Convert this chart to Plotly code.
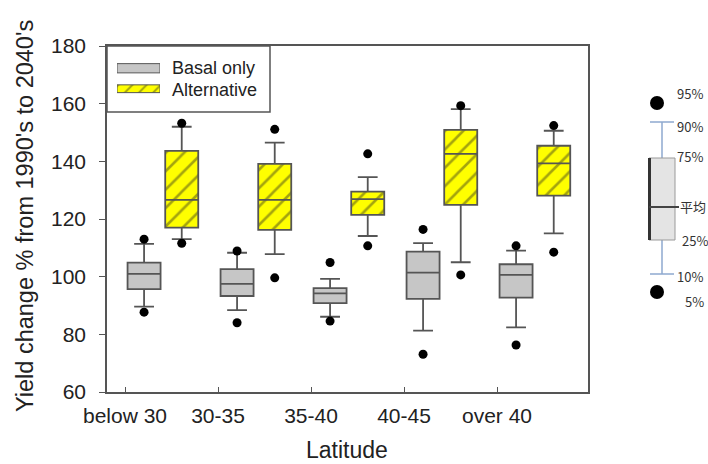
import plotly.graph_objects as go

# Latitude bands
categories = ["below 30", "30-35", "35-40", "40-45", "over 40"]

# Yield change (%) percentiles per latitude band: 5, 10, 25, 50, 75, 90, 95
basal_p5 = [87.7, 84.0, 84.6, 73.1, 76.3]
basal_p10 = [89.6, 88.4, 86.1, 81.3, 82.4]
basal_q1 = [95.7, 93.3, 90.8, 92.3, 92.7]
basal_med = [101.0, 97.5, 94.2, 101.4, 100.6]
basal_q3 = [104.9, 102.6, 96.0, 108.7, 104.3]
basal_p90 = [111.4, 108.3, 99.2, 111.6, 109.0]
basal_p95 = [113.0, 108.9, 104.9, 116.4, 110.7]

alt_p5 = [111.6, 99.6, 110.7, 100.6, 108.5]
alt_p10 = [113.0, 107.8, 114.1, 105.0, 115.0]
alt_q1 = [117.0, 116.2, 121.4, 124.9, 128.1]
alt_med = [126.6, 126.6, 126.9, 142.6, 139.3]
alt_q3 = [143.6, 139.1, 129.5, 150.9, 145.4]
alt_p90 = [152.0, 146.5, 134.5, 158.1, 150.6]
alt_p95 = [153.2, 151.1, 142.6, 159.3, 152.4]

series_names = ["Basal only", "Alternative"]
key_labels = ["95%", "90%", "75%", "平均", "25%", "10%", "5%"]

FONT = "Liberation Sans, Arial, sans-serif"
BOX_W = 0.355
LINE = "#555555"
GRAY = "#c6c6c6"
YELLOW = "#ffff00"
HATCH = "#4a4a1c"

pos = list(range(len(categories)))
x_basal = [p + 0.205 for p in pos]
x_alt = [p + 0.61 for p in pos]

fig = go.Figure()

# box bodies (filled), drawn in the bar layer beneath the box outlines
fig.add_trace(go.Bar(
    x=x_basal, base=basal_q1, y=[b - a for a, b in zip(basal_q1, basal_q3)],
    width=BOX_W, marker=dict(color=GRAY, line=dict(width=0)),
    showlegend=False, hoverinfo="skip"))
fig.add_trace(go.Bar(
    x=x_alt, base=alt_q1, y=[b - a for a, b in zip(alt_q1, alt_q3)],
    width=BOX_W,
    marker=dict(color=YELLOW, line=dict(width=0),
                pattern=dict(shape="/", fgcolor=HATCH, bgcolor=YELLOW,
                             size=13, solidity=0.2)),
    showlegend=False, hoverinfo="skip"))

# outlines, medians and 10/90 whiskers
for xs, q1, med, q3, lo, hi, name in [
    (x_basal, basal_q1, basal_med, basal_q3, basal_p10, basal_p90, series_names[0]),
    (x_alt, alt_q1, alt_med, alt_q3, alt_p10, alt_p90, series_names[1]),
]:
    fig.add_trace(go.Box(
        x=xs, q1=q1, median=med, q3=q3, lowerfence=lo, upperfence=hi,
        width=BOX_W, whiskerwidth=0.6, boxpoints=False,
        fillcolor="rgba(0,0,0,0)", line=dict(color=LINE, width=1.8),
        name=name, showlegend=False))

# 5th / 95th percentile points
for xs, p5, p95 in [(x_basal, basal_p5, basal_p95), (x_alt, alt_p5, alt_p95)]:
    fig.add_trace(go.Scatter(
        x=xs + xs, y=p5 + p95, mode="markers",
        marker=dict(color="black", size=9), showlegend=False))

# legend swatches on a small helper axis
fig.add_trace(go.Bar(
    y=[1], x=[1], base=[0], orientation="h", width=0.45,
    marker=dict(color=GRAY, line=dict(color=LINE, width=1)),
    xaxis="x2", yaxis="y2", showlegend=False, hoverinfo="skip"))
fig.add_trace(go.Bar(
    y=[0], x=[1], base=[0], orientation="h", width=0.38,
    marker=dict(color=YELLOW, line=dict(color=LINE, width=1),
                pattern=dict(shape="/", fgcolor=HATCH, bgcolor=YELLOW,
                             size=10, solidity=0.2)),
    xaxis="x2", yaxis="y2", showlegend=False, hoverinfo="skip"))

# plot area in pixels: x 107..588, y 46..392
L, R, T, B = 107, 588, 46, 392


def pxx(v):
    return (v - L) / (R - L)


def pxy(v):
    return (B - v) / (B - T)


shapes = []
annotations = []

# legend frame and labels
shapes.append(dict(type="rect", xref="paper", yref="paper",
                   x0=pxx(107), x1=pxx(270), y0=pxy(112), y1=pxy(46),
                   line=dict(color=LINE, width=1.5), layer="above"))
for name, yy in zip(series_names, [68, 90]):
    annotations.append(dict(xref="paper", yref="paper", x=pxx(170), y=pxy(yy),
                            text=name, showarrow=False, xanchor="left",
                            yanchor="middle",
                            font=dict(family=FONT, size=18, color="#222")))

# percentile key at right
KBLUE = "#8ea9cf"
kx = 662
shapes += [
    dict(type="line", xref="paper", yref="paper", x0=pxx(650), x1=pxx(674),
         y0=pxy(122), y1=pxy(122), line=dict(color=KBLUE, width=1.5)),
    dict(type="line", xref="paper", yref="paper", x0=pxx(650), x1=pxx(674),
         y0=pxy(274), y1=pxy(274), line=dict(color=KBLUE, width=1.5)),
    dict(type="line", xref="paper", yref="paper", x0=pxx(kx), x1=pxx(kx),
         y0=pxy(122), y1=pxy(158), line=dict(color=KBLUE, width=1.5)),
    dict(type="line", xref="paper", yref="paper", x0=pxx(kx), x1=pxx(kx),
         y0=pxy(240), y1=pxy(274), line=dict(color=KBLUE, width=1.5)),
    dict(type="rect", xref="paper", yref="paper", x0=pxx(649), x1=pxx(675),
         y0=pxy(240), y1=pxy(158), fillcolor="#e4e4e4",
         line=dict(color="#9a9a9a", width=1)),
    dict(type="line", xref="paper", yref="paper", x0=pxx(649.5), x1=pxx(649.5),
         y0=pxy(240), y1=pxy(158), line=dict(color="#333", width=3)),
    dict(type="line", xref="paper", yref="paper", x0=pxx(649), x1=pxx(679),
         y0=pxy(207), y1=pxy(207), line=dict(color="#444", width=2)),
    dict(type="circle", xref="paper", yref="paper", x0=pxx(650), x1=pxx(664),
         y0=pxy(110), y1=pxy(96), fillcolor="black", line=dict(width=0)),
    dict(type="circle", xref="paper", yref="paper", x0=pxx(650), x1=pxx(664),
         y0=pxy(299), y1=pxy(285), fillcolor="black", line=dict(width=0)),
]
key_pos = [(675, 93), (675, 126), (675, 156), (678, 206), (680, 240),
           (675, 276), (683, 301)]
for lab, (x, y) in zip(key_labels, key_pos):
    annotations.append(dict(xref="paper", yref="paper", x=pxx(x), y=pxy(y),
                            text=lab, showarrow=False, xanchor="left",
                            yanchor="middle",
                            font=dict(family="Noto Sans CJK SC", size=13,
                                      color="#333")))

# axis titles
annotations.append(dict(xref="paper", yref="paper", x=pxx(25), y=pxy(216),
                        text="Yield change % from 1990's to 2040's",
                        textangle=-90, showarrow=False, xanchor="center",
                        yanchor="middle",
                        font=dict(family=FONT, size=23.5, color="#222")))
annotations.append(dict(xref="paper", yref="paper", x=pxx(347), y=pxy(464),
                        text="Latitude", showarrow=False, xanchor="center",
                        yanchor="bottom", borderpad=0,
                        font=dict(family=FONT, size=23, color="#222")))

fig.update_layout(
    width=708, height=464,
    margin=dict(l=L, r=708 - R, t=T, b=464 - B),
    paper_bgcolor="white", plot_bgcolor="white",
    barmode="overlay", boxmode="overlay",
    showlegend=False,
    font=dict(family=FONT, color="#222"),
    xaxis=dict(
        range=[(L - 125) / 93, (R - 125) / 93],
        tickmode="array", tickvals=pos, ticktext=categories,
        ticks="inside", ticklen=5, tickcolor=LINE, tickwidth=1.2,
        showline=True, linecolor=LINE, linewidth=1.5, mirror=True,
        showgrid=False, zeroline=False, automargin=False,
        tickfont=dict(family=FONT, size=21, color="#222"),
        ticklabelstandoff=4,
    ),
    yaxis=dict(
        range=[60, 180], tickmode="linear", tick0=60, dtick=20,
        ticks="outside", ticklen=6, tickcolor=LINE, tickwidth=1.2,
        showline=True, linecolor=LINE, linewidth=1.5, mirror=True,
        showgrid=False, zeroline=False, automargin=False,
        tickfont=dict(family=FONT, size=21, color="#222"),
        ticklabelstandoff=9,
    ),
    xaxis2=dict(domain=[pxx(117), pxx(160)], range=[0, 1], anchor="y2",
                visible=False, fixedrange=True),
    yaxis2=dict(domain=[pxy(99), pxy(58)], range=[-0.5, 1.5], anchor="x2",
                visible=False, fixedrange=True),
    shapes=shapes,
    annotations=annotations,
)

fig.write_html("out.html")
